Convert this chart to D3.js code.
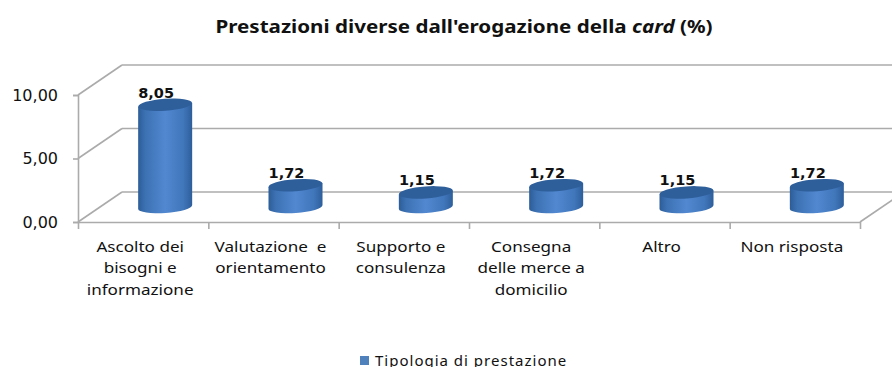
<!DOCTYPE html>
<html>
<head>
<meta charset="utf-8">
<script src="https://cdn.jsdelivr.net/npm/d3@7/dist/d3.min.js"></script>
<style>
html,body{margin:0;padding:0;background:#fff;overflow:hidden}
svg{display:block}
text{fill:#111}
</style>
</head>
<body>
<svg id="chart" width="892" height="367"></svg>
<script>
const categories = [
  "Ascolto dei\nbisogni e\ninformazione",
  "Valutazione  e\norientamento",
  "Supporto e\nconsulenza",
  "Consegna\ndelle merce a\ndomicilio",
  "Altro",
  "Non risposta"
];
const values = [8.05, 1.72, 1.15, 1.72, 1.15, 1.72];
const yTicks = [0, 5, 10];
const seriesName = "Tipologia di prestazione";
const titleText = "Prestazioni diverse dall'erogazione della ";
const titleItalic = "card";
const titleTail = " (%)";

const comma = d => d3.format(".2f")(d).replace(".", ",");
const svg = d3.select("#chart");

// Plot box: front plane plus the oblique offset of the back wall
const front = {left: 78, right: 860, floor: 222, top: 95};
const depth = {x: 44, y: -30};

const x = d3.scaleBand().domain(categories).range([front.left, front.right]).padding(0);
const slot = d3.scaleLinear().domain([0, categories.length]).range([front.left, front.right]);
const y = d3.scaleLinear().domain([0, 10]).range([front.floor, front.top]);

const defs = svg.append("defs");
const grad = defs.append("linearGradient").attr("id", "cyl");
[[0, "#2c5d98"], [0.14, "#3d72b4"], [0.5, "#5188d0"], [0.84, "#4076ba"], [1, "#2d5e9a"]]
  .forEach(([o, c]) => grad.append("stop").attr("offset", o).attr("stop-color", c));
const gridColor = "#ababab";

// Walls: oblique lines from the front axis, then the back gridlines
const walls = svg.append("g").attr("fill", "none").attr("stroke", gridColor).attr("stroke-width", 1.6);
yTicks.forEach(t => {
  walls.append("line")
    .attr("x1", front.left).attr("y1", y(t))
    .attr("x2", front.left + depth.x).attr("y2", y(t) + depth.y);
  walls.append("line")
    .attr("x1", front.left + depth.x).attr("y1", y(t) + depth.y)
    .attr("x2", 892).attr("y2", y(t) + depth.y);
});
walls.append("line")
  .attr("x1", front.right).attr("y1", front.floor)
  .attr("x2", front.right + depth.x).attr("y2", front.floor + depth.y);

// Axes
const yAxis = svg.append("g").attr("transform", `translate(${front.left},0)`)
  .call(d3.axisLeft(y).tickValues(yTicks).tickFormat(comma).tickSize(5).tickPadding(15));
const xAxis = svg.append("g").attr("transform", `translate(0,${front.floor})`)
  .call(d3.axisBottom(slot).tickValues(d3.range(categories.length + 1)).tickFormat("").tickSize(7).tickSizeOuter(0));
[yAxis, xAxis].forEach(a => {
  a.selectAll("path,line").attr("stroke", gridColor).attr("stroke-width", 1.6);
});
yAxis.selectAll("text")
  .attr("font-family", "'DejaVu Sans'").attr("font-size", 16).attr("fill", "#111");

// Cylinders, tilted slightly by the oblique view
const rx = 27, ry = 6, tilt = -4;
const baseY = front.floor + depth.y / 2;
const barHeight = v => y(0) - y(v);
const tiltDy = rx * Math.tan(-tilt * Math.PI / 180);

const bars = svg.append("g").selectAll("g").data(values).join("g")
  .attr("transform", (d, i) => `translate(${x(categories[i]) + x.bandwidth() / 2 + depth.x / 2},0)`);

bars.append("path")
  .attr("fill", "url(#cyl)")
  .attr("d", d => {
    const top = baseY - barHeight(d);
    return `M${-rx},${top + tiltDy}L${-rx},${baseY + tiltDy}` +
      `A${rx},${ry} ${tilt} 0 0 ${rx},${baseY - tiltDy}` +
      `L${rx},${top - tiltDy}Z`;
  });
bars.append("ellipse")
  .attr("rx", rx).attr("ry", ry).attr("fill", "#2f5f9b")
  .attr("transform", d => `translate(0,${baseY - barHeight(d)}) rotate(${tilt})`);

// Value labels sit left of the cylinder axis
bars.append("text")
  .attr("x", -9)
  .attr("y", d => baseY - barHeight(d) - 7)
  .attr("text-anchor", "middle")
  .attr("font-family", "'DejaVu Sans'")
  .attr("font-weight", "bold")
  .attr("font-size", 14.5)
  .text(comma);

// Category labels, widened to the proportions of the chart's typeface
const catLabels = svg.append("g").selectAll("text").data(categories).join("text")
  .attr("text-anchor", "middle")
  .attr("font-family", "'Noto Sans'")
  .attr("font-size", 15)
  .attr("transform", d => `translate(${x(d) + x.bandwidth() / 2 - 3},252) scale(1.14,1)`);
catLabels.selectAll("tspan").data(d => d.split("\n")).join("tspan")
  .attr("x", 0).attr("y", (d, i) => i * 21.3)
  .style("white-space", "pre")
  .text(d => d);

// Title
const title = svg.append("text")
  .attr("text-anchor", "middle")
  .attr("transform", "translate(464,33) scale(1.145,1)")
  .attr("font-family", "'Noto Sans'").attr("font-weight", "bold").attr("font-size", 18);
title.append("tspan").text(titleText);
title.append("tspan").attr("font-style", "italic").text(titleItalic);
title.append("tspan").text(titleTail);

// Legend
svg.append("rect").attr("x", 360).attr("y", 356).attr("width", 9).attr("height", 9).attr("fill", "#4f81bd");
svg.append("text")
  .attr("x", 375).attr("y", 366)
  .attr("font-family", "'Noto Sans'").attr("font-size", 15).attr("letter-spacing", 1)
  .text(seriesName);
</script>
</body>
</html>
